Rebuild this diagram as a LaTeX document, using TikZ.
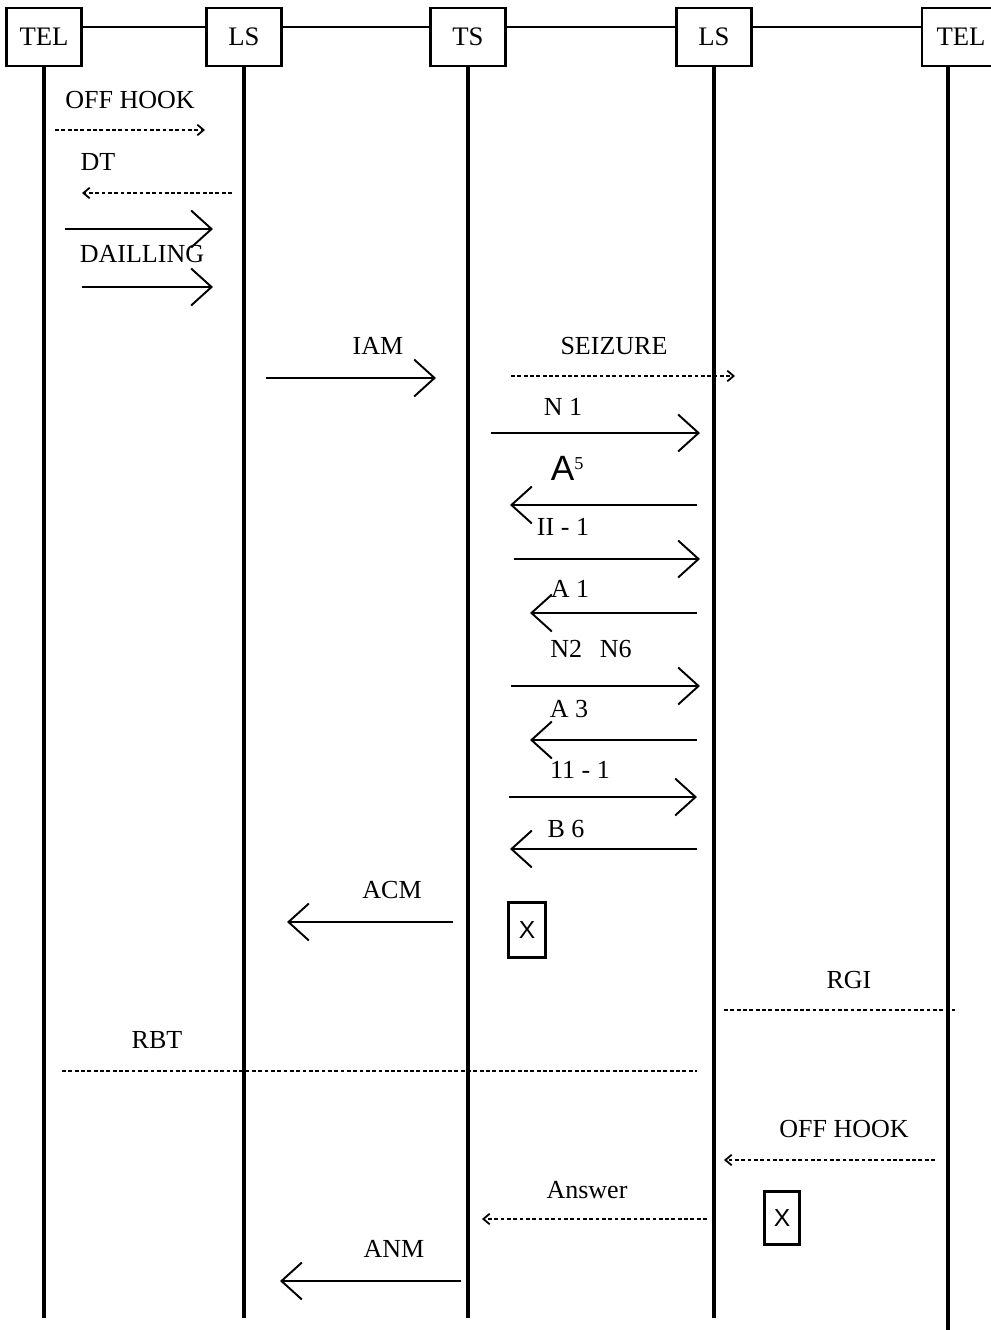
\documentclass[tikz,border=0pt]{standalone}
\usepackage{fontspec}
\setmainfont{Liberation Serif}
\newfontfamily\handfont{Liberation Sans}
\usetikzlibrary{arrows.meta}

% one signal: style, name, x from, x to, y
\newcommand{\msgarrow}[5]{%
  \coordinate (#2s) at (#3,#5);
  \coordinate (#2e) at (#4,#5);
  \draw[#1] (#2s) -- (#2e);}

\begin{document}
\begin{tikzpicture}[x=0.01cm,y=-0.01cm,
  station/.style={draw,line width=0.7pt,minimum width=0.75cm,minimum height=0.58cm,
                  inner sep=0pt,font=\fontsize{7.6}{9}\selectfont},
  life/.style={line width=1pt},
  trunk/.style={line width=0.4pt},
  sig/.style={line width=0.45pt,-{Straight Barb[length=5.8pt,width=10.5pt,line width=0.55pt]}},
  dsig/.style={line width=0.45pt,dash pattern=on 1.1pt off 0.7pt,
               -{Straight Barb[length=1.8pt,width=3pt,line width=0.5pt]}},
  tone/.style={line width=0.45pt,dash pattern=on 1.1pt off 0.7pt},
  lbl/.style={font=\fontsize{7.4}{9}\selectfont,inner sep=1pt},
  xbox/.style={draw,line width=0.6pt,inner sep=0pt,font=\handfont\fontsize{7}{8}\selectfont}
]
\useasboundingbox (0,0) rectangle (991,1330);
\node[station] (telA) at (44,37) {TEL};
\node[station] (lsA) at (244,37) {LS};
\node[station] (ts) at (468,37) {TS};
\node[station] (lsB) at (714,37) {LS};
\node[station,minimum width=0.78cm] (telB) at (961,37) {TEL};
\draw[trunk] ([yshift=2.8pt]telA.east) -- ([yshift=2.8pt]lsA.west);
\draw[trunk] ([yshift=2.8pt]lsA.east) -- ([yshift=2.8pt]ts.west);
\draw[trunk] ([yshift=2.8pt]ts.east) -- ([yshift=2.8pt]lsB.west);
\draw[trunk] ([yshift=2.8pt]lsB.east) -- ([yshift=2.8pt]telB.west);
\coordinate (bot) at (0,1318);
\coordinate (telBx) at (948,1330);
\foreach \n in {telA,lsA,ts,lsB}
  \draw[life] (\n.south) -- (\n.south |- bot);
\draw[life] (telB.south -| telBx) -- (telBx);
\node[lbl] (offhookA) at (130,100) {OFF HOOK};
\node[lbl] (dt) at (98,162) {DT};
\node[lbl] (dial) at (142,254) {DAILLING};
\node[lbl] (iam) at (378,346) {IAM};
\node[lbl] (seize) at (614,346) {SEIZURE};
\node[lbl] (n1) at (563,407) {N 1};
\node[lbl] (a5) at (568,468) {{\handfont\fontsize{10}{10}\selectfont A}\textsuperscript{5}};
\node[lbl] (ii1) at (563,527) {II - 1};
\node[lbl] (a1) at (570,589) {A 1};
\node[lbl] (n2n6) at (591,649) {N2\hspace{5pt}N6};
\node[lbl] (ii1b) at (580,770) {11 - 1};
\node[lbl] (a3) at (569,709) {A 3};
\node[lbl] (b6) at (566,829) {B 6};
\node[lbl] (acm) at (392,890) {ACM};
\node[lbl] (rgi) at (849,980) {RGI};
\node[lbl] (rbt) at (157,1040) {RBT};
\node[lbl] (offhookB) at (844,1129) {OFF HOOK};
\node[lbl] (answer) at (587,1190) {Answer};
\node[lbl] (anm) at (394,1249) {ANM};
\node[xbox,minimum width=0.37cm,minimum height=0.55cm] (cutA) at (527,930) {X};
\node[xbox,minimum width=0.35cm,minimum height=0.53cm] (cutB) at (782,1218) {X};
\msgarrow{dsig}{offhook}{55}{205}{130}
\msgarrow{dsig}{dtone}{232}{82}{193}
\msgarrow{sig}{dialA}{65}{213}{229}
\msgarrow{sig}{dialB}{82}{213}{287}
\msgarrow{sig}{iamsig}{266}{436}{378}
\msgarrow{dsig}{seizure}{511}{735}{376}
\msgarrow{sig}{nA}{491}{700}{433}
\msgarrow{sig}{aA}{697}{510}{505}
\msgarrow{sig}{iiA}{514}{700}{559}
\msgarrow{sig}{aB}{697}{530}{613}
\msgarrow{sig}{nB}{511}{700}{686}
\msgarrow{sig}{aC}{697}{530}{740}
\msgarrow{sig}{iiB}{509}{697}{797}
\msgarrow{sig}{bA}{697}{510}{849}
\msgarrow{sig}{acmsig}{453}{287}{922}
\msgarrow{tone}{ring}{724}{955}{1010}
\msgarrow{tone}{ringback}{62}{697}{1071}
\msgarrow{dsig}{offhookb}{935}{724}{1160}
\msgarrow{dsig}{answ}{707}{482}{1219}
\msgarrow{sig}{anmsig}{461}{280}{1281}
\end{tikzpicture}
\end{document}
